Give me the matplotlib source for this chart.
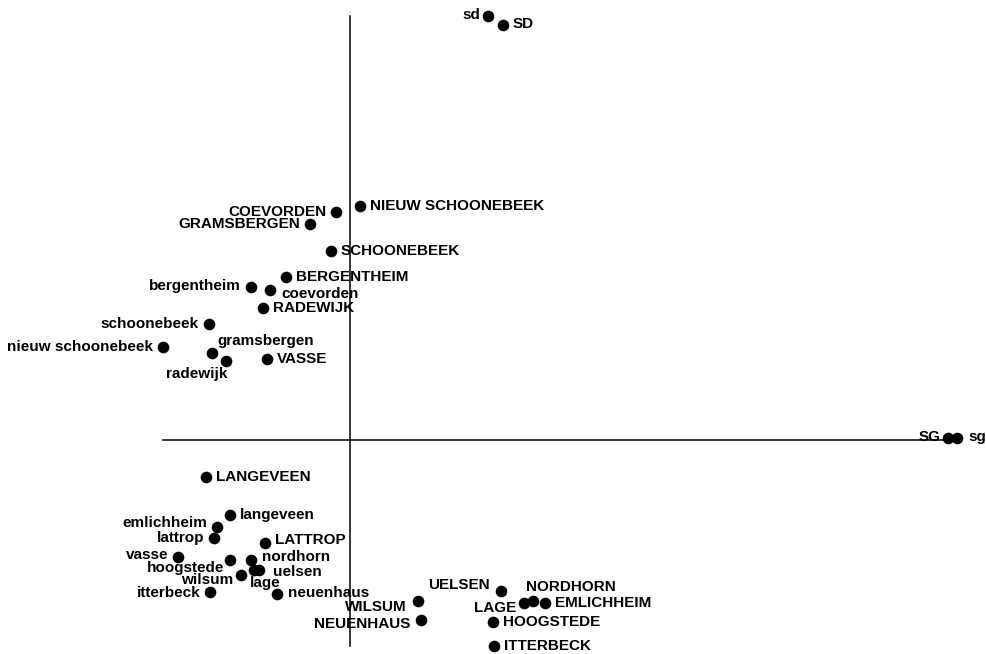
import matplotlib
matplotlib.use('Agg')
import matplotlib.pyplot as plt

# point labels and coordinates (first two dimensions)
names = ['COEVORDEN', 'NIEUW SCHOONEBEEK', 'GRAMSBERGEN', 'SCHOONEBEEK',
         'BERGENTHEIM', 'bergentheim', 'coevorden', 'RADEWIJK',
         'schoonebeek', 'nieuw schoonebeek', 'gramsbergen', 'radewijk',
         'VASSE', 'LANGEVEEN', 'langeveen', 'emlichheim', 'lattrop',
         'LATTROP', 'vasse', 'hoogstede', 'nordhorn', 'lage', 'uelsen',
         'wilsum', 'itterbeck', 'neuenhaus', 'WILSUM', 'NEUENHAUS',
         'UELSEN', 'LAGE', 'NORDHORN', 'EMLICHHEIM', 'HOOGSTEDE',
         'ITTERBECK', 'sd', 'SD', 'SG', 'sg']
xs = [-0.14, 0.10, -0.40, -0.19,
      -0.64, -0.99, -0.80, -0.87,
      -1.41, -1.87, -1.38, -1.24,
      -0.83, -1.44, -1.20, -1.33, -1.36,
      -0.85, -1.72, -1.20, -0.99, -0.96, -0.91,
      -1.09, -1.40, -0.73, 0.68, 0.71,
      1.51, 1.74, 1.83, 1.95, 1.43,
      1.44, 1.38, 1.53, 5.98, 6.07]
ys = [2.28, 2.34, 2.16, 1.89,
      1.63, 1.53, 1.50, 1.32,
      1.16, 0.93, 0.87, 0.79,
      0.81, -0.37, -0.75, -0.87, -0.98,
      -1.03, -1.17, -1.20, -1.20, -1.30, -1.30,
      -1.35, -1.52, -1.54, -1.61, -1.80,
      -1.51, -1.63, -1.61, -1.63, -1.82,
      -2.06, 4.24, 4.15, 0.02, 0.02]

# label placement: (dx, dy in pixels, horizontal alignment)
R = (10, 0, 'left')
L = (-10, 0, 'right')
place = {
    'coevorden': (11, -4, 'left'),
    'bergentheim': (-10, 1, 'right'),
    'gramsbergen': (5, 12, 'left'),
    'radewijk': (1, -13, 'right'),
    'emlichheim': (-10, 4, 'right'),
    'lattrop': (-10, 0, 'right'),
    'LATTROP': (10, 3, 'left'),
    'vasse': (-10, 2, 'right'),
    'hoogstede': (-6, -8, 'right'),
    'nordhorn': (11, 3, 'left'),
    'uelsen': (14, -2, 'left'),
    'lage': (-4, -13, 'left'),
    'wilsum': (-8, -5, 'right'),
    'itterbeck': (-9, -1, 'right'),
    'neuenhaus': (11, 1, 'left'),
    'WILSUM': (-11, -6, 'right'),
    'NEUENHAUS': (-11, -4, 'right'),
    'UELSEN': (-11, 6, 'right'),
    'LAGE': (-8, -5, 'right'),
    'NORDHORN': (-7, 14, 'left'),
    'sd': (-8, 1, 'right'),
    'SD': (10, 1, 'left'),
    'SG': (-7, 1, 'right'),
    'sg': (11, 1, 'left'),
}
left_side = {'COEVORDEN', 'GRAMSBERGEN', 'schoonebeek', 'nieuw schoonebeek'}

plt.rcParams['font.family'] = ['Liberation Sans', 'DejaVu Sans']

fig = plt.figure(figsize=(9.86, 6.54), dpi=100)
ax = fig.add_axes([0, 0, 1, 1])
ax.set_xlim(-3.5, 6.36)
ax.set_ylim(-2.14, 4.40)
ax.axis('off')

# axes through the origin, spanning the data range
ax.plot([min(xs), max(xs)], [0, 0], color='black', lw=1.1, zorder=1)
ax.plot([0, 0], [min(ys), max(ys)], color='black', lw=1.1, zorder=1)

ax.scatter(xs, ys, s=70, color='black', zorder=3, linewidths=0)

for n, x, y in zip(names, xs, ys):
    if n in place:
        dx, dy, ha = place[n]
    elif n in left_side:
        dx, dy, ha = L
    else:
        dx, dy, ha = R
    ax.annotate(n, (x, y), xytext=(dx, dy), textcoords='offset pixels',
                ha=ha, va='center', fontsize=11, fontweight='bold',
                color='black', zorder=4)

fig.savefig('out.png', dpi=100)
